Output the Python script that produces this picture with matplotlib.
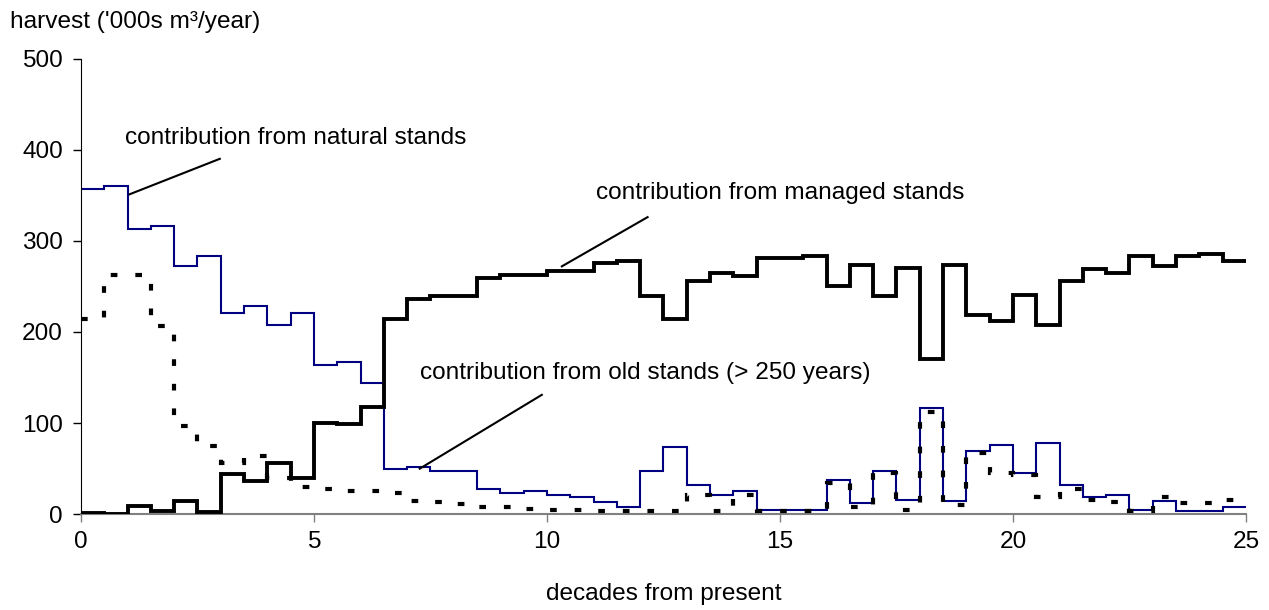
import numpy as np
import matplotlib
matplotlib.use('Agg')
import matplotlib.pyplot as plt

plt.rcParams['font.family'] = ['Liberation Sans', 'DejaVu Sans']

# decades from present, half-decade steps
edges = np.arange(0, 25.5, 0.5)

natural = [357, 360, 313, 316, 272, 283, 221, 228, 208, 221,
           164, 167, 144, 50, 52, 47, 47, 28, 23, 25,
           21, 19, 13, 8, 47, 74, 32, 21, 25, 5,
           5, 5, 38, 12, 47, 16, 117, 14, 69, 76,
           45, 78, 32, 19, 21, 5, 14, 4, 4, 8]

managed = [1.5, 0, 9, 4, 15, 2, 44, 37, 56, 40,
           100, 99, 118, 214, 236, 240, 240, 259, 263, 263,
           267, 267, 276, 278, 240, 214, 256, 265, 261, 281,
           281, 283, 250, 274, 240, 270, 170, 274, 219, 212,
           241, 208, 256, 269, 265, 283, 272, 283, 285, 278]

old = [214, 262, 262, 207, 97, 75, 56, 64, 40, 30,
       28, 26, 26, 23, 15, 13, 11, 8, 8, 6,
       5, 4.5, 4, 4, 4, 4, 21, 4, 21, 4,
       4, 4, 34, 8, 45, 5, 112, 10, 67, 45,
       43, 19, 28, 16, 13, 4, 19, 12, 12, 16]

fs = 17.6

fig = plt.figure(figsize=(12.69, 6.10), dpi=100)
ax = fig.add_axes([0.0638, 0.157, 0.918, 0.747])

ax.stairs(natural, edges, baseline=None, color='#000080', lw=1.5, zorder=2)
ax.stairs(managed, edges, baseline=None, color='black', lw=2.8, zorder=3)
ax.stairs(old, edges, baseline=None, color='black', lw=3.0,
          linestyle=(0, (1.6, 4.3)), zorder=4)

ax.set_xlim(0, 25)
ax.set_ylim(0, 500)
ax.set_xticks([0, 5, 10, 15, 20, 25])
ax.set_yticks([0, 100, 200, 300, 400, 500])
ax.tick_params(axis='both', direction='out', length=6, width=1, labelsize=fs, pad=7)
ax.tick_params(axis='x', colors='#808080', labelcolor='black', pad=6)

for s in ['top', 'right']:
    ax.spines[s].set_visible(False)
ax.spines['left'].set_color('black')
ax.spines['bottom'].set_color('#808080')
ax.spines['bottom'].set_linewidth(1.5)

ax.set_xlabel('decades from present', fontsize=fs, labelpad=22)
fig.text(10 / 1269, 1 - 22 / 610, "harvest ('000s m\u00b3/year)", fontsize=fs,
         ha='left', va='center')

# callouts
ax.plot([1.04, 2.98], [351, 390], color='black', lw=1.5)
ax.text(0.94, 413, 'contribution from natural stands', fontsize=fs, va='center')

ax.plot([10.32, 12.16], [272, 326], color='black', lw=1.5)
ax.text(11.05, 352, 'contribution from managed stands', fontsize=fs, va='center')

ax.plot([7.27, 9.89], [50, 131], color='black', lw=1.5)
ax.text(7.27, 155, 'contribution from old stands (> 250 years)', fontsize=fs, va='center')

fig.savefig('out.png', dpi=100)
